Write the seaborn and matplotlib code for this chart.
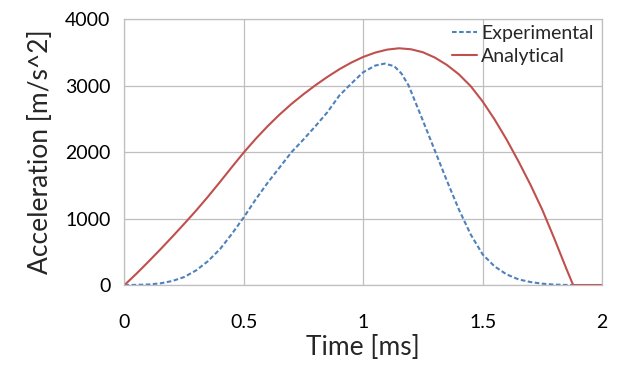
import matplotlib
matplotlib.use("Agg")
import matplotlib.pyplot as plt
import seaborn as sns
import pandas as pd

# values
time_ana = [0.0, 0.05, 0.1, 0.15, 0.2, 0.25, 0.3, 0.35, 0.4, 0.45, 0.5,
            0.55, 0.6, 0.65, 0.7, 0.75, 0.8, 0.85, 0.9, 0.95, 1.0,
            1.05, 1.1, 1.15, 1.2, 1.25, 1.3, 1.35, 1.4, 1.45, 1.5,
            1.55, 1.6, 1.65, 1.7, 1.75, 1.8, 1.85, 1.879, 2.0]
acc_ana = [0, 170, 350, 535, 725, 920, 1120, 1330, 1550, 1775, 1995,
           2200, 2390, 2565, 2725, 2870, 3005, 3130, 3245, 3345, 3430,
           3495, 3540, 3560, 3545, 3500, 3420, 3310, 3170, 2990, 2760,
           2490, 2190, 1860, 1510, 1130, 700, 250, 0, 0]

time_exp = [0.0, 0.05, 0.1, 0.15, 0.2, 0.25, 0.3, 0.35, 0.4, 0.45, 0.5,
            0.55, 0.6, 0.65, 0.7, 0.75, 0.8, 0.85, 0.9, 0.95, 1.0,
            1.05, 1.09, 1.13, 1.16, 1.19, 1.25, 1.3, 1.35, 1.4, 1.45, 1.5,
            1.55, 1.6, 1.65, 1.7, 1.75, 1.8, 1.85, 1.879]
acc_exp = [0, 2, 8, 25, 60, 120, 220, 360, 540, 770, 1020,
           1290, 1540, 1770, 2000, 2190, 2390, 2600, 2850, 3030, 3200,
           3300, 3330, 3290, 3180, 3000, 2470, 2020, 1570, 1140, 760, 460,
           280, 160, 85, 45, 20, 6, 1, 0]

x_ticks = [0, 0.5, 1, 1.5, 2]
x_tick_labels = ["0", "0.5", "1", "1.5", "2"]
y_ticks = [0, 1000, 2000, 3000, 4000]

sns.set_theme(style="white")
plt.rcParams["font.family"] = ["Lato", "DejaVu Sans"]

df_exp = pd.DataFrame({"t": time_exp, "a": acc_exp})
df_ana = pd.DataFrame({"t": time_ana, "a": acc_ana})

fig = plt.figure(figsize=(6.2, 3.7), dpi=100)
ax = fig.add_axes([0.2008, 0.2297, 0.7702, 0.7189])

sns.lineplot(data=df_exp, x="t", y="a", ax=ax, color="#4F81BD",
             linestyle=(0, (2.2, 1.2)), linewidth=1.5, label="Experimental")
sns.lineplot(data=df_ana, x="t", y="a", ax=ax, color="#C0504D",
             linewidth=1.5, label="Analytical")

ax.set_xlim(0, 2)
ax.set_ylim(0, 4000)
ax.set_xticks(x_ticks)
ax.set_xticklabels(x_tick_labels)
ax.set_yticks(y_ticks)
ax.tick_params(axis="x", length=0, pad=21, labelsize=14, colors="black")
ax.tick_params(axis="y", length=0, pad=10, labelsize=14, colors="black")
ax.grid(True, color="#BFBFBF", linewidth=0.9)
for s in ax.spines.values():
    s.set_color("#BFBFBF")
    s.set_linewidth(0.9)

ax.set_xlabel("Time [ms]", fontsize=19, labelpad=3)
ax.set_ylabel("Acceleration [m/s^2]", fontsize=19, labelpad=9)

leg = ax.legend(loc="upper right", frameon=False, fontsize=14,
                handlelength=1.3, handletextpad=0.2, labelspacing=0.3,
                borderaxespad=0.05, bbox_to_anchor=(1.0, 1.01))

fig.savefig("out.png", dpi=100)
plt.close(fig)
